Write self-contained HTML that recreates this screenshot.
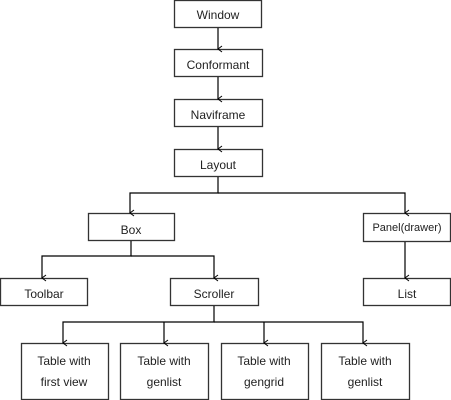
<!DOCTYPE html>
<html><head><style>
html,body{margin:0;padding:0;background:#fff;width:451px;height:400px;overflow:hidden}
text{font-family:"Liberation Sans",sans-serif;font-size:12px;fill:#222}
</style></head><body>
<svg width="451" height="400" xmlns="http://www.w3.org/2000/svg">
<defs><marker id="a" markerWidth="8" markerHeight="8" refX="4" refY="7" orient="auto" markerUnits="userSpaceOnUse"><path d="M1,3 L4,7 L7,3" fill="none" stroke="#000" stroke-width="1"/></marker></defs>
<g fill="#fff" stroke="#333" stroke-width="1.3">
<rect x="174.5" y="0.5" width="87" height="27"/>
<rect x="174.5" y="49.5" width="88" height="27"/>
<rect x="174.5" y="99.5" width="88" height="27"/>
<rect x="174.5" y="149.5" width="88" height="27"/>
<rect x="88.5" y="33.5" width="86" height="27" transform="translate(0,180)"/>
<rect x="363.5" y="213.5" width="87" height="28"/>
<rect x="0.5" y="278.5" width="87" height="27"/>
<rect x="170.5" y="278.5" width="88" height="27"/>
<rect x="363.5" y="278.5" width="87" height="27"/>
<rect x="21.5" y="343.5" width="87" height="56"/>
<rect x="120.5" y="343.5" width="88" height="56"/>
<rect x="221.5" y="343.5" width="87" height="56"/>
<rect x="321.5" y="343.5" width="88" height="56"/>
</g>
<g stroke="#000" stroke-width="1.2" fill="none">
<path d="M218 28V49" marker-end="url(#a)"/>
<path d="M218 77V99" marker-end="url(#a)"/>
<path d="M218 127V149" marker-end="url(#a)"/>
<path d="M218 177V193H130V213" marker-end="url(#a)"/>
<path d="M218 193H405V213" marker-end="url(#a)"/>
<path d="M405 242V278" marker-end="url(#a)"/>
<path d="M131 241V256H42V278" marker-end="url(#a)"/>
<path d="M131 256H214V278" marker-end="url(#a)"/>
<path d="M214 306V322H63V343" marker-end="url(#a)"/>
<path d="M214 322H363V343" marker-end="url(#a)"/>
<path d="M164 322V343" marker-end="url(#a)"/>
<path d="M264 322V343" marker-end="url(#a)"/>
</g>
<g text-anchor="middle">
<text x="218" y="19">Window</text>
<text x="218" y="69">Conformant</text>
<text x="218" y="119">Naviframe</text>
<text x="218" y="169">Layout</text>
<text x="131" y="234">Box</text>
<text x="407" y="231" style="font-size:11px">Panel(drawer)</text>
<text x="44" y="298">Toolbar</text>
<text x="214" y="298">Scroller</text>
<text x="407" y="298">List</text>
<text x="64" y="365">Table with</text><text x="64" y="386">first view</text>
<text x="164" y="365">Table with</text><text x="164" y="386">genlist</text>
<text x="264" y="365">Table with</text><text x="264" y="386">gengrid</text>
<text x="365" y="365">Table with</text><text x="365" y="386">genlist</text>
</g>
</svg>
</body></html>
